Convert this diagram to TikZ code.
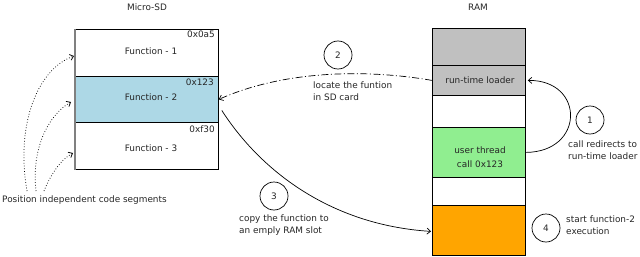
\documentclass[tikz,border=0pt]{standalone}
\usepackage{fontspec}
\setmainfont{DejaVu Sans}
\usetikzlibrary{arrows.meta}
\definecolor{memgrey}{HTML}{C0C0C0}
\definecolor{memblue}{HTML}{ADD8E6}
\definecolor{memgreen}{HTML}{90EE90}
\definecolor{memorange}{HTML}{FFA500}
\begin{document}
\begin{tikzpicture}[x=1pt,y=-1pt,
  every node/.style={font=\fontsize{8.9}{10}\selectfont, text=black!85},
  cell/.style={draw=black, line width=0.8pt, inner sep=0pt, anchor=north west},
  lbl/.style={inner sep=0pt, anchor=center},
  ltxt/.style={inner sep=0pt, anchor=west, align=left},
  addr/.style={inner sep=0pt, anchor=east},
  stepnum/.style={draw=black, line width=0.7pt, circle, minimum size=28pt, inner sep=0pt},
  tip/.style={-{Straight Barb[length=3.5pt,width=6pt]}},
]
\useasboundingbox (0,0) rectangle (640,257);
% titles
\node[lbl] (sdtitle) at (147,7) {Micro-SD};
\node[lbl] (ramtitle) at (478,7) {RAM};
% Micro-SD cells
\node[cell, fill=white, minimum width=143pt, minimum height=47pt] (sd1) at (75,29) {};
\node[cell, fill=memblue, minimum width=143pt, minimum height=46pt] (sd2) at (75,76) {};
\node[cell, fill=white, minimum width=143pt, minimum height=47pt] (sd3) at (75,122) {};
\draw[gray, line width=1.3pt] (sd1.north west) -- (sd3.south west);
\node[lbl] (f1) at (151,51) {Function - 1};
\node[lbl] (f2) at (151,97) {Function - 2};
\node[lbl] (f3) at (151,148) {Function - 3};
\node[addr] (a1) at (215,34) {0x0a5};
\node[addr] (a2) at (214,82) {0x123};
\node[addr] (a3) at (215,129) {0xf30};
% RAM cells
\node[cell, fill=memgrey, minimum width=93pt, minimum height=37pt] (r1) at (432,28) {};
\node[cell, fill=memgrey, minimum width=93pt, minimum height=30pt] (r2) at (432,65) {};
\node[cell, fill=white, minimum width=93pt, minimum height=32pt] (r3) at (432,95) {};
\node[cell, fill=memgreen, minimum width=93pt, minimum height=50pt] (r4) at (432,127) {};
\node[cell, fill=white, minimum width=93pt, minimum height=28pt] (r5) at (432,177) {};
\node[cell, fill=memorange, minimum width=93pt, minimum height=50pt] (r6) at (432,205) {};
\node[lbl] (loader) at (480,80) {run-time loader};
\node[lbl] (uthread) at (480,150) {user thread};
\node[lbl] (ucall) at (480,164) {call 0x123};
% step circles
\node[stepnum] (c1) at (590,120) {1};
\node[stepnum] (c2) at (338,55) {2};
\node[stepnum] (c3) at (274,196) {3};
\node[stepnum] (c4) at (546,228) {4};
% step texts
\node[ltxt] (t1a) at (568,144) {call redirects to};
\node[ltxt] (t1b) at (568,156) {run-time loader};
\node[ltxt] (t2a) at (313,85) {locate the funtion};
\node[ltxt] (t2b) at (313,97) {in SD card};
\node[ltxt] (t3a) at (239,219) {copy the function to};
\node[ltxt] (t3b) at (239,231) {an emply RAM slot};
\node[ltxt] (t4a) at (566,219) {start function-2};
\node[ltxt] (t4b) at (566,231) {execution};
\node[ltxt] (pic) at (2,200) {Position independent code segments};
% connectors
\coordinate (s1) at (27,191);
\coordinate (s2) at (36,191);
\coordinate (s3) at (44,191);
\coordinate (e1) at (74,56);
\coordinate (e2) at (71,102);
\coordinate (e3) at (73,153);
\draw[tip, dotted, line width=0.75pt] (s1) .. controls (15,120) and (40,68) .. (e1);
\draw[tip, dotted, line width=0.75pt] (s2) .. controls (31,150) and (48,115) .. (e2);
\draw[tip, dotted, line width=0.75pt] (s3) .. controls (50,176) and (60,160) .. (e3);
\draw[tip, line width=0.7pt, dash pattern=on 7pt off 2.5pt on 1pt off 2.5pt]
  (r2.west) .. controls (360,68) and (280,72) .. (sd2.east);
\draw[tip, line width=0.7pt] (r4.east) .. controls (585,152) and (585,80) .. ([xshift=2pt]r2.east);
\draw[tip, line width=0.7pt] ([xshift=3pt,yshift=-11pt]sd2.east) .. controls (260,170) and (330,225) .. ([xshift=-1pt,yshift=-1pt]r6.west);
\end{tikzpicture}
\end{document}
